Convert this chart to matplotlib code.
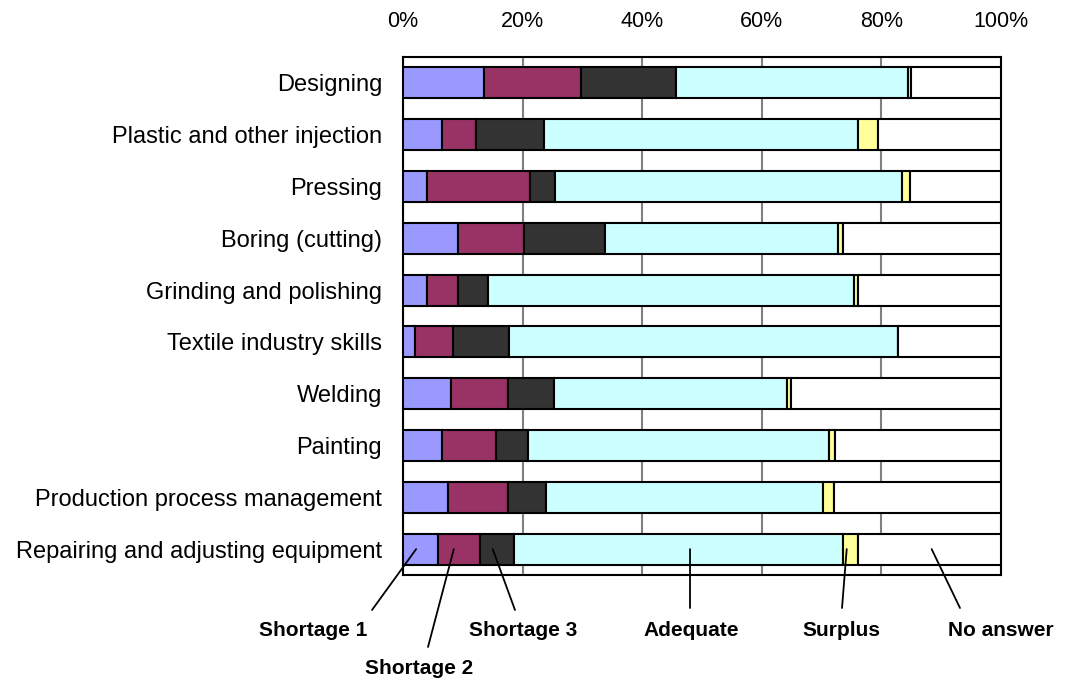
import numpy as np
import matplotlib.pyplot as plt

categories = ['Designing', 'Plastic and other injection', 'Pressing', 'Boring (cutting)',
              'Grinding and polishing', 'Textile industry skills', 'Welding', 'Painting',
              'Production process management', 'Repairing and adjusting equipment']

shortage1 = [13.5, 6.6, 4.0, 9.2, 4.0, 2.0, 8.0, 6.6, 7.6, 5.9]
shortage2 = [16.2, 5.6, 17.2, 11.0, 5.2, 6.3, 9.6, 8.9, 10.0, 7.0]
shortage3 = [16.0, 11.3, 4.3, 13.5, 5.0, 9.4, 7.6, 5.4, 6.3, 5.7]
adequate  = [38.7, 52.6, 57.9, 39.1, 61.3, 65.1, 39.0, 50.3, 46.3, 54.9]
surplus   = [0.6, 3.4, 1.4, 0.7, 0.6, 0.0, 0.7, 1.0, 1.9, 2.6]
no_answer = [15.0, 20.5, 15.2, 26.5, 23.9, 17.2, 35.1, 27.8, 27.9, 23.9]

series = [('Shortage 1', shortage1, '#9999FF'),
          ('Shortage 2', shortage2, '#993366'),
          ('Shortage 3', shortage3, '#333333'),
          ('Adequate', adequate, '#CCFFFF'),
          ('Surplus', surplus, '#FFFF99'),
          ('No answer', no_answer, '#FFFFFF')]

fig = plt.figure(figsize=(10.66, 6.8), dpi=100)
ax = fig.add_axes([403/1066, 105/680, 598/1066, 518/680])

y = np.arange(len(categories))
left = np.zeros(len(categories))
for name, vals, col in series:
    vals = np.array(vals)
    ax.barh(y, vals, left=left, height=0.6, color=col, edgecolor='black',
            linewidth=1.5, zorder=3)
    left += vals

ax.set_xlim(0, 100)
ax.set_ylim(9.5, -0.5)
ax.set_xticks([0, 20, 40, 60, 80, 100])
ax.set_xticklabels(['0%', '20%', '40%', '60%', '80%', '100%'], family='Liberation Sans')
ax.xaxis.tick_top()
ax.tick_params(axis='x', length=0, pad=18, labelsize=15.5)
ax.set_yticks(y)
ax.set_yticklabels(categories, family='Liberation Sans')
ax.tick_params(axis='y', length=0, pad=15, labelsize=17)
ax.xaxis.grid(True, color='#808080', linewidth=1.5, zorder=0)
ax.set_axisbelow(True)
for s in ax.spines.values():
    s.set_linewidth(1.5)
    s.set_color('black')

# leader lines: (label, point in bar (%), line end px, label centre px) - px from top
leaders = [('Shortage 1', 2.2, (372, 610), (313, 631)),
           ('Shortage 2', 8.5, (428, 647), (419, 668)),
           ('Shortage 3', 15.0, (515, 610), (523, 631)),
           ('Adequate', 48.0, (690, 608), (691, 631)),
           ('Surplus', 74.2, (842, 608), (841, 631)),
           ('No answer', 88.4, (960, 608), (1001, 631))]
for name, xv, end, lab in leaders:
    ax.annotate('', xy=(xv, 9), xycoords='data',
                xytext=(end[0], 680 - end[1]), textcoords='figure pixels',
                arrowprops=dict(arrowstyle='-', color='black', lw=1.3,
                                shrinkA=0, shrinkB=0),
                annotation_clip=False)
    fig.text(lab[0] / 1066, 1 - lab[1] / 680, name, ha='center', va='center',
             fontsize=15, fontweight='bold', family='Liberation Sans')

fig.savefig('out.png', dpi=100)
